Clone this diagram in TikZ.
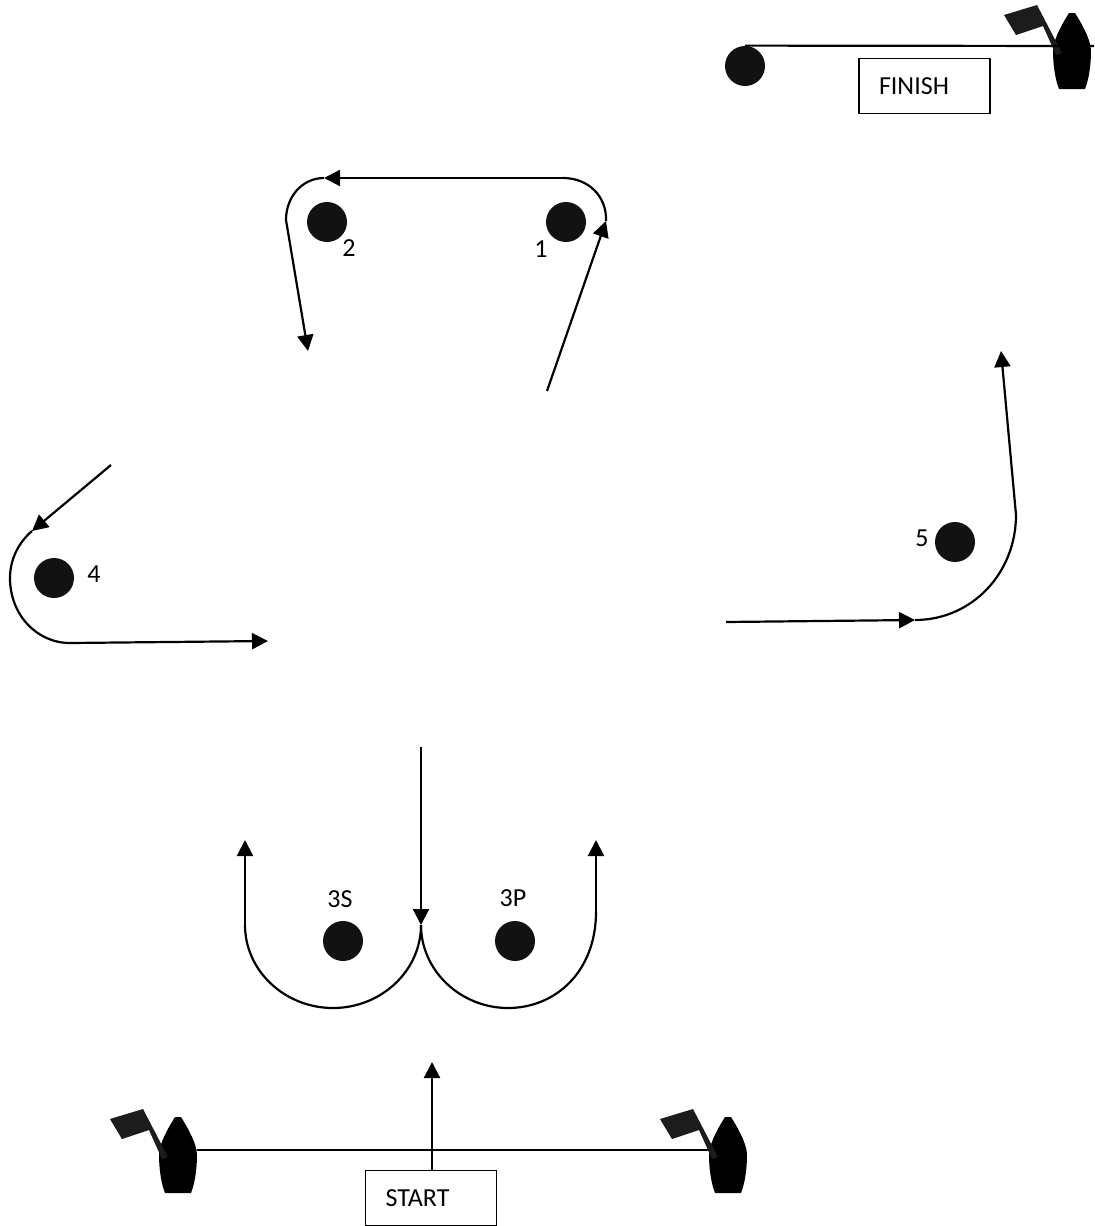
\documentclass[tikz,border=0pt]{standalone}
\usepackage{fontspec}
\setmainfont{Carlito}
\usetikzlibrary{arrows.meta}
\definecolor{markblack}{rgb}{0.07, 0.07, 0.07}
\definecolor{flagblack}{rgb}{0.11, 0.11, 0.11}
\tikzset{
	course/.style={line width=1.1pt, black},
	sail/.style={course, -{Triangle[length=8pt,width=8pt]}},
	buoy/.style={circle, fill=markblack, minimum size=20pt, inner sep=0pt},
	tag/.style={font=\fontsize{13}{15}\selectfont, inner sep=0pt},
	linebox/.style={draw, line width=0.9pt, fill=white, minimum width=65.5pt, minimum height=27.5pt,
		text width=45.5pt, inner xsep=10pt, inner ysep=0pt, align=left, font=\fontsize{13}{15}\selectfont},
	boat/.pic={
		\fill[black] (-13,0) .. controls (-17,-10) and (-19,-25) .. (-19,-38)
			.. controls (-19,-50) and (-8,-68) .. (-3,-76) -- (3,-76)
			.. controls (8,-68) and (19,-50) .. (19,-38)
			.. controls (19,-25) and (17,-10) .. (13,0) -- cycle;
		\fill[flagblack] (-68,-74) -- (-35,-84) -- (-10,-36) -- (-16,-34) -- (-29,-63) -- (-56,-54) -- cycle;
		\coordinate (-east) at (19,-43);
		\coordinate (-west) at (-19,-43);
	}
}
\begin{document}
\begin{tikzpicture}[x=0.5pt, y=-0.5pt]
		\useasboundingbox (0,0) rectangle (1094,1226);

		% finish line
		\node[buoy] (markF) at (745,66) {};
		\pic (boatF) at (1072,89) {boat};
		\coordinate (finishEnd) at (1094,46);
		\draw[course] (markF.north) -- (finishEnd);
		\node[linebox] (finishBox) at (924.5,86) {FINISH};

		% marks
		\node[buoy] (mark1) at (566,222) {};
		\node[buoy] (mark2) at (327,222) {};
		\node[buoy] (mark4) at (54,578) {};
		\node[buoy] (mark5) at (955,542) {};
		\node[buoy] (mark3S) at (343,941) {};
		\node[buoy] (mark3P) at (515,941) {};
		\node[tag] (label1) at (541,249) {1};
		\node[tag] (label2) at (349,248) {2};
		\node[tag] (label4) at (94,574) {4};
		\node[tag] (label5) at (922,538) {5};
		\node[tag] (label3S) at (340,899) {3S};
		\node[tag] (label3P) at (513,898) {3P};

		% legs round 1 and 2
		\coordinate (a1) at (547,391);
		\coordinate (a2) at (606,221);
		\coordinate (a3) at (563,178);
		\coordinate (a4) at (324,178);
		\coordinate (a5) at (286,220);
		\coordinate (a6) at (308,351);
		\draw[sail] (a1) -- (a2);
		\draw[course] (a2) .. controls (607,196) and (588,178) .. (a3);
		\draw[sail] (a3) -- (a4);
		\draw[course] (a4) .. controls (302,178) and (286,197) .. (a5);
		\draw[sail] (a5) -- (a6);

		% leg round 4
		\coordinate (b1) at (111,465);
		\coordinate (b2) at (32,531);
		\coordinate (b3) at (70,643);
		\coordinate (b4) at (268,641);
		\draw[sail] (b1) -- (b2);
		\draw[course] (b2) .. controls (18,543) and (10,560) .. (10,578) .. controls (10,615) and (37,643) .. (b3);
		\draw[sail] (b3) -- (b4);

		% leg round 5
		\coordinate (c1) at (726,622);
		\coordinate (c2) at (915,620);
		\coordinate (c3) at (1016,515);
		\coordinate (c4) at (1001,351);
		\draw[sail] (c1) -- (c2);
		\draw[course] (c2) .. controls (972,620) and (1016,573) .. (c3);
		\draw[sail] (c3) -- (c4);

		% gate 3S, 3P
		\coordinate (d1) at (421,747);
		\coordinate (d2) at (421,925);
		\coordinate (d3) at (245,925);
		\coordinate (d4) at (245,840);
		\coordinate (d5) at (596,912);
		\coordinate (d6) at (596,840);
		\draw[sail] (d1) -- (d2);
		\draw[course] (d3) .. controls (245,971) and (285,1008) .. (333,1008) .. controls (381,1008) and (421,971) .. (d2);
		\draw[course] (d2) .. controls (421,971) and (461,1008) .. (508,1008) .. controls (556,1008) and (596,971) .. (d5);
		\draw[sail] (d3) -- (d4);
		\draw[sail] (d5) -- (d6);

		% start line
		\pic (boatL) at (178,1193) {boat};
		\pic (boatR) at (728,1193) {boat};
		\draw[course] (boatL-east) -- (boatR-west);
		\node[linebox] (startBox) at (431,1198) {START};
		\coordinate (startTip) at (432,1062);
		\draw[sail] (startBox.north -| startTip) -- (startTip);
\end{tikzpicture}
\end{document}
